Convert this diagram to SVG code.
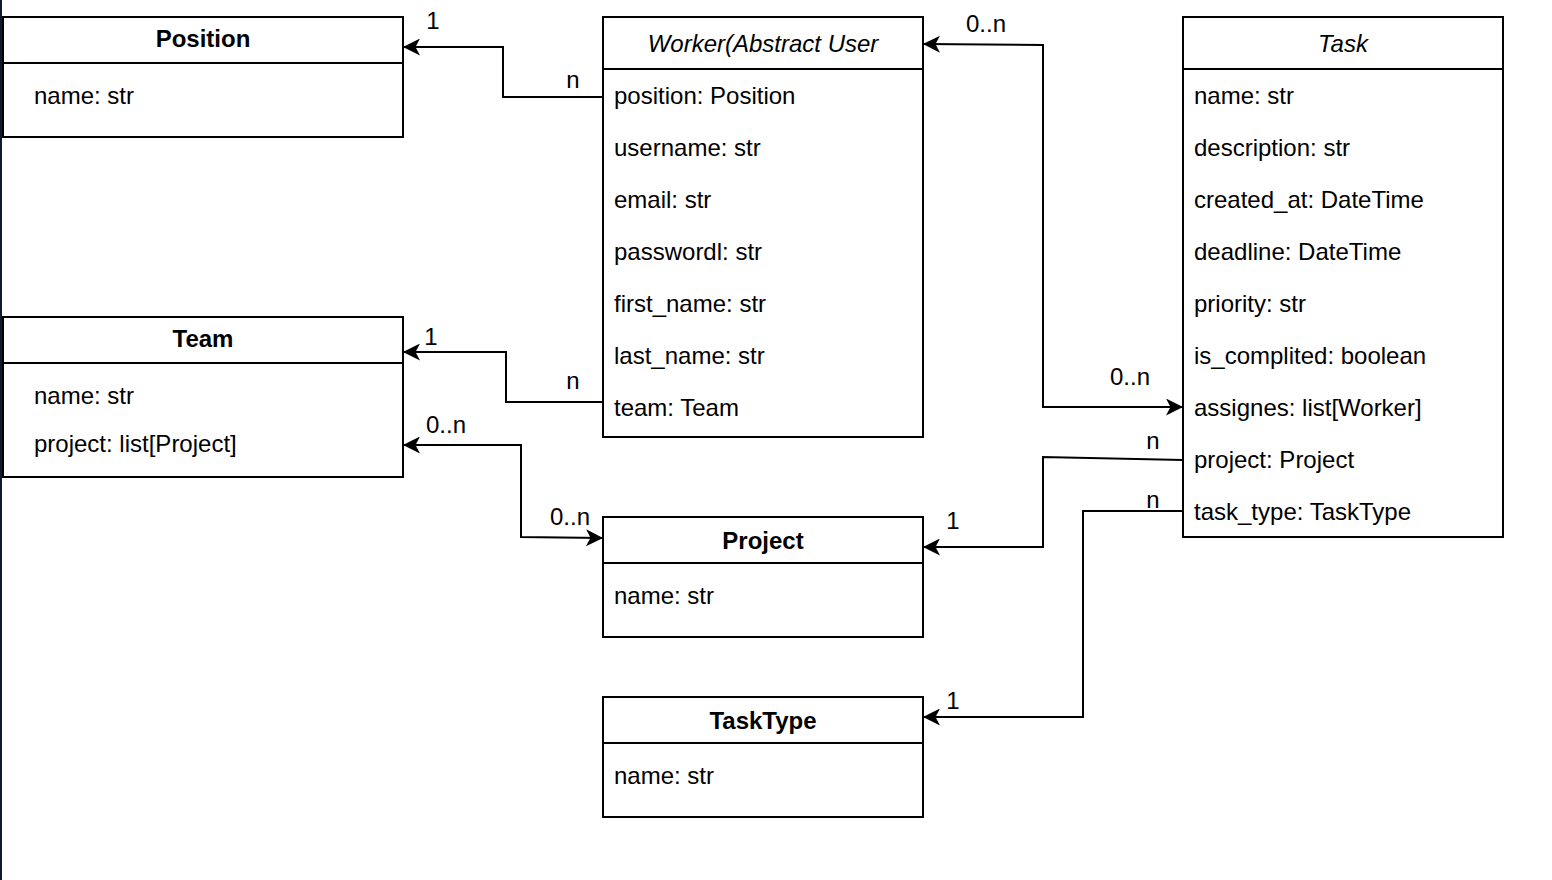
<svg xmlns="http://www.w3.org/2000/svg" width="1552" height="880" viewBox="0 0 1552 880">
<style>
.box{fill:#fff;stroke:#000;stroke-width:2}
.div{stroke:#000;stroke-width:2}
text{font-family:"Liberation Sans",Arial,Helvetica,sans-serif;font-size:24px;fill:#000}
.t{text-anchor:middle;font-weight:bold}
.ti{text-anchor:middle;font-style:italic}
.lbl{text-anchor:middle}
.c{fill:none;stroke:#000;stroke-width:2}
.end{marker-end:url(#arr)}
.both{marker-end:url(#arr);marker-start:url(#arr)}
</style>
<defs>
<marker id="arr" viewBox="0 0 17 17" refX="16" refY="8.5" markerWidth="17" markerHeight="17" markerUnits="userSpaceOnUse" orient="auto-start-reverse">
<path d="M0,0 L17,8.5 L0,17 L4.5,8.5 Z" fill="#000"/>
</marker>
</defs>
<rect x="0" y="0" width="1552" height="880" fill="#fff"/>
<rect x="0" y="0" width="2" height="880" fill="#0d1b2a"/>

<g id="connectors">
<polyline class="c end" points="603,97 503,97 503,47 404,47"/>
<polyline class="c end" points="603,402 506,402 506,352 404,352"/>
<polyline class="c both" points="404,445 521,445 521,537 602,538"/>
<polyline class="c both" points="924,44 1043,45 1043,407 1182,407"/>
<polyline class="c end" points="1183,460 1043,457 1043,547 924,547"/>
<polyline class="c end" points="1183,511 1083,511 1083,717 924,717"/>
<text class="lbl" x="433" y="29">1</text>
<text class="lbl" x="573" y="88">n</text>
<text class="lbl" x="986" y="32">0..n</text>
<text class="lbl" x="431" y="345">1</text>
<text class="lbl" x="573" y="389">n</text>
<text class="lbl" x="446" y="433">0..n</text>
<text class="lbl" x="570" y="525">0..n</text>
<text class="lbl" x="1130" y="385">0..n</text>
<text class="lbl" x="1153" y="449">n</text>
<text class="lbl" x="1153" y="508">n</text>
<text class="lbl" x="953" y="529">1</text>
<text class="lbl" x="953" y="709">1</text>
</g>

<g id="position">
<rect class="box" x="3" y="17" width="400" height="120"/>
<line class="div" x1="3" y1="63" x2="403" y2="63"/>
<text class="t" x="203" y="47">Position</text>
<text x="34" y="104">name: str</text>
</g>

<g id="team">
<rect class="box" x="3" y="317" width="400" height="160"/>
<line class="div" x1="3" y1="363" x2="403" y2="363"/>
<text class="t" x="203" y="347">Team</text>
<text x="34" y="404">name: str</text>
<text x="34" y="452">project: list[Project]</text>
</g>

<g id="worker">
<rect class="box" x="603" y="17" width="320" height="420"/>
<line class="div" x1="603" y1="69" x2="923" y2="69"/>
<text class="ti" x="763" y="52">Worker(Abstract User</text>
<text x="614" y="104">position: Position</text>
<text x="614" y="156">username: str</text>
<text x="614" y="208">email: str</text>
<text x="614" y="260">passwordl: str</text>
<text x="614" y="312">first_name: str</text>
<text x="614" y="364">last_name: str</text>
<text x="614" y="416">team: Team</text>
</g>

<g id="task">
<rect class="box" x="1183" y="17" width="320" height="520"/>
<line class="div" x1="1183" y1="69" x2="1503" y2="69"/>
<text class="ti" x="1343" y="52">Task</text>
<text x="1194" y="104">name: str</text>
<text x="1194" y="156">description: str</text>
<text x="1194" y="208">created_at: DateTime</text>
<text x="1194" y="260">deadline: DateTime</text>
<text x="1194" y="312">priority: str</text>
<text x="1194" y="364">is_complited: boolean</text>
<text x="1194" y="416">assignes: list[Worker]</text>
<text x="1194" y="468">project: Project</text>
<text x="1194" y="520">task_type: TaskType</text>
</g>

<g id="project">
<rect class="box" x="603" y="517" width="320" height="120"/>
<line class="div" x1="603" y1="563" x2="923" y2="563"/>
<text class="t" x="763" y="549">Project</text>
<text x="614" y="604">name: str</text>
</g>

<g id="tasktype">
<rect class="box" x="603" y="697" width="320" height="120"/>
<line class="div" x1="603" y1="743" x2="923" y2="743"/>
<text class="t" x="763" y="729">TaskType</text>
<text x="614" y="784">name: str</text>
</g>
</svg>
